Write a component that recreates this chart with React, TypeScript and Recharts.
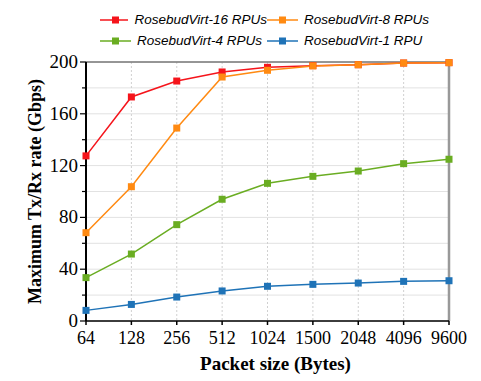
import React from "react";
import {
  LineChart,
  Line,
  XAxis,
  YAxis,
  CartesianGrid,
  ReferenceLine,
} from "recharts";

const packetSizes = ["64", "128", "256", "512", "1024", "1500", "2048", "4096", "9600"];
const rpu16 = [127.5, 173, 185.3, 192.3, 195.9, 197.2, 197.9, 199.2, 199.5];
const rpu8 = [68.2, 103.7, 149, 188.4, 193.6, 197, 197.9, 199.2, 199.5];
const rpu4 = [33.5, 51.7, 74.4, 94, 106.3, 111.7, 115.8, 121.5, 124.9];
const rpu1 = [8.2, 12.8, 18.5, 23.2, 26.8, 28.3, 29.3, 30.6, 31.1];
const yTicks = [0, 20, 40, 60, 80, 100, 120, 140, 160, 180, 200];

const SERIES = [
  { key: "rpu16", name: "RosebudVirt-16 RPUs", color: "#f5141b", values: rpu16 },
  { key: "rpu8", name: "RosebudVirt-8 RPUs", color: "#ff8a12", values: rpu8 },
  { key: "rpu4", name: "RosebudVirt-4 RPUs", color: "#6aad22", values: rpu4 },
  { key: "rpu1", name: "RosebudVirt-1 RPU", color: "#1f73b7", values: rpu1 },
];

const data = packetSizes.map((size, i) => {
  const row: Record<string, string | number> = { size };
  SERIES.forEach((s) => (row[s.key] = s.values[i]));
  return row;
});

const SERIF = "'Liberation Serif', 'Times New Roman', serif";

function SquareDot(props: any) {
  const { cx, cy, stroke } = props;
  if (cx == null || cy == null) return null;
  return <rect x={cx - 3.5} y={cy - 3.5} width={7} height={7} fill={stroke} />;
}

function YTick(props: any) {
  const { x, y, payload } = props;
  const major = payload.value % 40 === 0;
  return (
    <g>
      <line x1={x - (major ? 6 : 4)} x2={x} y1={y} y2={y} stroke="#000" strokeWidth={1.2} />
      {major && (
        <text x={x - 8} y={y} dy={6} textAnchor="end" fontFamily={SERIF} fontSize={19} fill="#000">
          {payload.value}
        </text>
      )}
    </g>
  );
}

// legend sits above the plot, outside recharts' layout
function LegendBox() {
  return (
    <div
      style={{
        position: "absolute",
        left: 100,
        top: 10,
        display: "grid",
        gridTemplateColumns: "167px 180px",
        rowGap: 2,
        fontFamily: "'Liberation Sans', Arial, sans-serif",
        fontStyle: "italic",
        fontSize: 13.5,
        color: "#000",
        whiteSpace: "nowrap",
      }}
    >
      {SERIES.map((s) => (
        <div key={s.key} style={{ display: "flex", alignItems: "center", height: 19 }}>
          <svg width={31} height={10} style={{ marginRight: 6 }}>
            <line x1={0} x2={31} y1={5} y2={5} stroke={s.color} strokeWidth={1.5} />
            <rect x={12} y={1.5} width={7} height={7} fill={s.color} />
          </svg>
          <span>{s.name}</span>
        </div>
      ))}
    </div>
  );
}

export default function App() {
  return (
    <div style={{ position: "absolute", left: 0, top: 0, width: 481, height: 381, background: "#fff" }}>
      <LineChart
        width={481}
        height={381}
        data={data}
        margin={{ top: 62, right: 32, left: 0, bottom: 0 }}
      >
        <CartesianGrid vertical={false} stroke="#e2e2e2" strokeWidth={1} />
        <CartesianGrid horizontal={false} stroke="#d0d0d0" strokeDasharray="2 2" />
        <ReferenceLine y={200} stroke="#777" strokeWidth={1.5} />
        <ReferenceLine x="9600" stroke="#999" strokeWidth={2.5} />
        <XAxis
          dataKey="size"
          height={60}
          stroke="#000"
          strokeWidth={1.5}
          tickSize={4}
          tick={{ fontFamily: SERIF, fontSize: 18, fill: "#000" }}
          tickMargin={6}
          label={{
            value: "Packet size (Bytes)",
            position: "center",
            dx: 8,
            dy: 12,
            style: { fontFamily: SERIF, fontSize: 19, fontWeight: "bold", fill: "#000" },
          }}
        />
        <YAxis
          width={86}
          domain={[0, 200]}
          ticks={yTicks}
          interval={0}
          stroke="#000"
          strokeWidth={2}
          tickLine={false}
          tickSize={0}
          tickMargin={0}
          tick={<YTick />}
          label={{
            value: "Maximum Tx/Rx rate (Gbps)",
            angle: -90,
            position: "center",
            dx: -8,
            style: { fontFamily: SERIF, fontSize: 18, fontWeight: "bold", fill: "#000", textAnchor: "middle" },
          }}
        />
        {SERIES.map((s) => (
          <Line
            key={s.key}
            dataKey={s.key}
            name={s.name}
            stroke={s.color}
            strokeWidth={1.5}
            dot={<SquareDot />}
            activeDot={false}
            isAnimationActive={false}
          />
        ))}
      </LineChart>
      <LegendBox />
    </div>
  );
}
